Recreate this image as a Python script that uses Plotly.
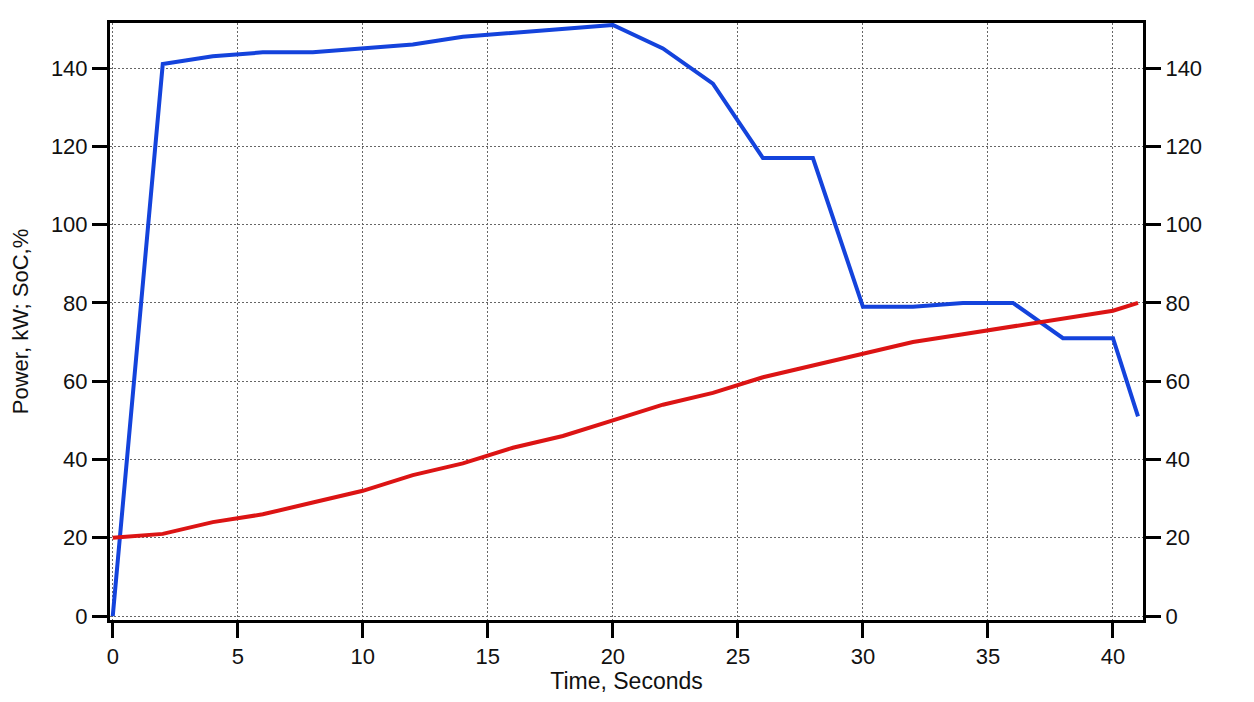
import plotly.graph_objects as go

time_s = [0, 2, 4, 6, 8, 10, 12, 14, 16, 18, 20, 22, 24, 26, 28, 30, 32, 34, 36, 38, 40, 41]
power_kw = [0, 141, 143, 144, 144, 145, 146, 148, 149, 150, 151, 145, 136, 117, 117, 79, 79, 80, 80, 71, 71, 51]
soc_pct = [20, 21, 24, 26, 29, 32, 36, 39, 43, 46, 50, 54, 57, 61, 64, 67, 70, 72, 74, 76, 78, 80]

x_ticks = [0, 5, 10, 15, 20, 25, 30, 35, 40]
y_ticks = [0, 20, 40, 60, 80, 100, 120, 140]

yr = [-1.0, 151.5]
xr = [-0.11, 41.2]

fig = go.Figure()
fig.add_trace(go.Scatter(x=time_s, y=power_kw, mode="lines",
                         line=dict(color="#1443dc", width=4), name="Power"))
fig.add_trace(go.Scatter(x=time_s, y=soc_pct, mode="lines", yaxis="y2",
                         line=dict(color="#dc1414", width=4), name="SoC"))

font = dict(family="Liberation Sans, Arial, sans-serif", size=22, color="#111")
tfont = dict(family="Liberation Sans, Arial, sans-serif", size=23, color="#111")
grid = dict(showgrid=True, gridcolor="#666", griddash="2px,2px", gridwidth=1)
axl = dict(ticks="outside", ticklen=15, tickwidth=3, tickcolor="black",
           showline=True, linecolor="black", linewidth=3, zeroline=False,
           tickfont=font, automargin=False)

fig.update_layout(
    width=1238, height=686,
    margin=dict(l=102, r=103, t=15, b=74),
    paper_bgcolor="white", plot_bgcolor="white",
    showlegend=False,
    font=font,
    xaxis=dict(range=xr, tickvals=x_ticks, mirror=True,
               title=dict(text="Time, Seconds", standoff=14, font=tfont), **grid, **axl),
    yaxis=dict(range=yr, tickvals=y_ticks,
               title=dict(text="Power, kW; SoC,%", standoff=28, font=font), **grid, **axl),
    yaxis2=dict(range=yr, tickvals=y_ticks, overlaying="y", side="right",
                showgrid=False, **axl),
)

fig.write_html("out.html")
